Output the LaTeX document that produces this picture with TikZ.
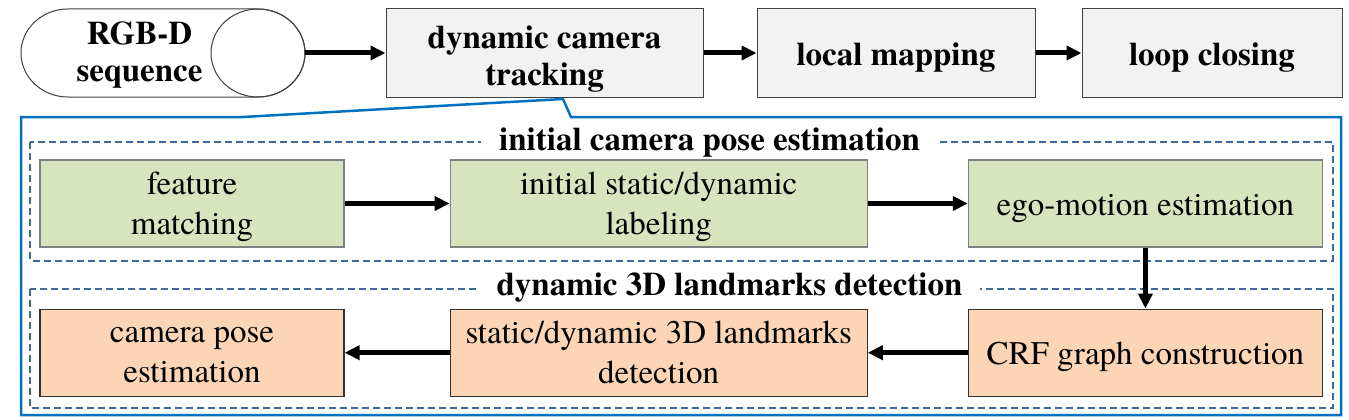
\documentclass[tikz,border=0pt]{standalone}
\usepackage{fontspec}
\setmainfont{texgyretermes}[Extension=.otf, UprightFont=*-regular, BoldFont=*-bold, ItalicFont=*-italic, BoldItalicFont=*-bolditalic]
\usepackage{xcolor}
\usepackage{tikz}
\usetikzlibrary{arrows.meta,positioning,calc}
\definecolor{stagefill}{HTML}{F2F2F2}
\definecolor{initfill}{HTML}{D7E4BD}
\definecolor{detfill}{HTML}{FBD5B5}
\definecolor{grpblue}{HTML}{3E6A9A}
\definecolor{callblue}{HTML}{0070C0}
\tikzset{
  >={Triangle[length=15pt,width=14pt]},
  stage/.style={draw=black!75, line width=1pt, fill=stagefill, rectangle, minimum height=88pt, minimum width=317pt, align=center, inner sep=0pt, font=\fontsize{33}{37}\selectfont\bfseries, execute at begin node={\rule{0pt}{32pt}}},
  initbox/.style={draw=black!50, line width=1.2pt, fill=initfill, rectangle, minimum height=87pt, align=center, inner sep=0pt, font=\fontsize{33}{40}\selectfont, execute at begin node={\rule{0pt}{31pt}}},
  detbox/.style={initbox, draw=black!80, fill=detfill},
  twolines/.style={execute at begin node={\rule{0pt}{#1}}},
  grp/.style={draw=grpblue, line width=2pt, dash pattern=on 7pt off 4pt},
  grptitle/.style={fill=white, inner xsep=18pt, inner ysep=2pt, font=\fontsize{33}{37}\selectfont\bfseries},
  conn/.style={->, line width=5pt},
}

\begin{document}
\begin{tikzpicture}[x=1pt, y=1pt]
  \useasboundingbox (0,0) rectangle (1349,-420);

  % tracking thread zoom-in
  \draw[callblue, line width=2.5pt, line join=miter]
    (21,-117) -- (243,-117) -- (563,-99) -- (571,-117) -- (1341,-117)
    -- (1341,-415) -- (21,-415) -- cycle;

  % input sequence (cylinder)
  \draw[black!75, line width=1pt, fill=white]
    (68,-9) -- (258,-9) arc[start angle=90, end angle=-90, x radius=47, y radius=44]
    -- (68,-97) arc[start angle=270, end angle=90, x radius=47, y radius=44] -- cycle;
  \draw[black!75, line width=1pt] (258,-53) ellipse[x radius=47, y radius=44];
  \node[align=center, font=\fontsize{33}{37}\selectfont\bfseries] (seq) at (139.5,-55) {RGB-D\\sequence};
  \coordinate (seqend) at (305,-53);

  % threads
  \node[stage, twolines=72pt] (track) at (544.5,-53) {dynamic camera\\tracking};
  \node[stage, minimum width=278pt, right=53pt of track] (mapping) {local mapping};
  \node[stage, minimum width=260pt, right=46pt of mapping] (closing) {loop closing};

  % initial camera pose estimation
  \node[initbox, twolines=69pt, minimum width=304pt] (feat) at (192,-203.5) {feature\\matching};
  \node[initbox, twolines=69pt, minimum width=417pt, right=105pt of feat] (label) {initial static/dynamic\\labeling};
  \node[initbox, minimum width=354pt, right=100pt of label] (ego) {ego-motion estimation};

  % dynamic 3D landmarks detection
  \node[detbox, minimum width=354pt, below=61pt of ego] (crf) {CRF graph construction};
  \node[detbox, twolines=59pt, minimum width=417pt, left=100pt of crf] (det) {static/dynamic 3D landmarks\\detection};
  \node[detbox, twolines=59pt, minimum width=304pt, left=105pt of det] (campose) {camera pose\\estimation};

  % groups
  \draw[grp] ($(feat.north west)+(-9,17)$) rectangle ($(ego.south east)+(10,-13)$);
  \draw[grp] ($(campose.north west)+(-9,20)$) rectangle ($(crf.south east)+(10,-11)$);
  \node[grptitle, anchor=base] (inittitle) at (709.5,-150) {initial camera pose estimation};
  \node[grptitle, anchor=base] (dettitle) at (729.5,-295) {dynamic 3D landmarks detection};

  % connections
  \draw[conn] (seqend) -- (track);
  \draw[conn] (track) -- (mapping);
  \draw[conn] (mapping) -- (closing);
  \draw[conn] (feat) -- (label);
  \draw[conn] (label) -- (ego);
  \draw[conn] (ego) -- (crf);
  \draw[conn] (crf) -- (det);
  \draw[conn] (det) -- (campose);
\end{tikzpicture}
\end{document}
